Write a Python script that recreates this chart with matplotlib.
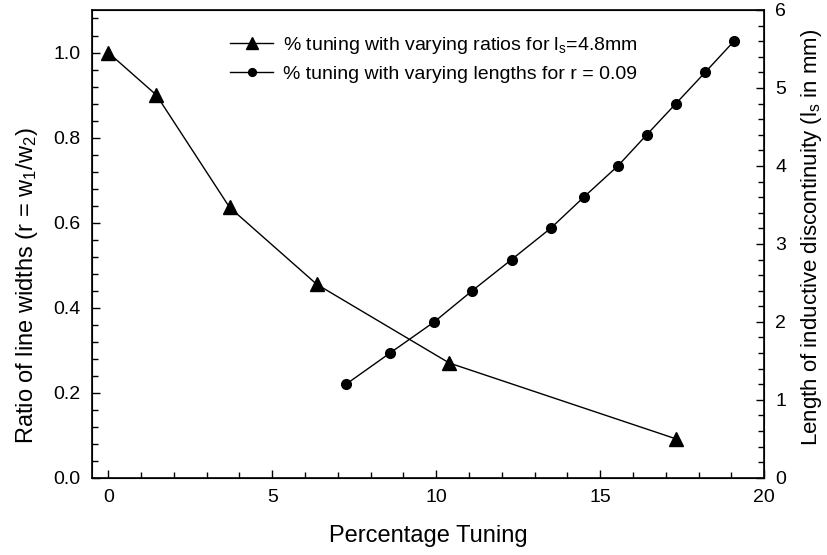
import numpy as np
import matplotlib
matplotlib.use("Agg")
import matplotlib.pyplot as plt
from matplotlib.ticker import MultipleLocator

plt.rcParams['font.family'] = ['Liberation Sans', 'DejaVu Sans']
plt.rcParams['mathtext.default'] = 'regular'

# % tuning with varying ratios (left axis)
tune_ratio = [0, 1.47, 3.7, 6.36, 10.4, 17.3]
ratio = [1.0, 0.9, 0.636, 0.455, 0.27, 0.092]

# % tuning with varying lengths (right axis)
tune_len = [7.25, 8.59, 9.94, 11.1, 12.3, 13.49, 14.5, 15.54, 16.42, 17.31, 18.2, 19.08]
length = [1.2, 1.6, 2.0, 2.4, 2.8, 3.2, 3.6, 4.0, 4.4, 4.8, 5.2, 5.6]

fig = plt.figure(figsize=(8.27, 5.55), dpi=100)
ax = fig.add_axes([0.111, 0.139, 0.813, 0.843])
ax2 = ax.twinx()

l1, = ax.plot(tune_ratio, ratio, '-k', marker='^', markersize=10, lw=1,
              label='% tuning with varying ratios for l$_s$=4.8mm')
l2, = ax2.plot(tune_len, length, '-k', marker='o', markersize=7, lw=1,
               label='% tuning with varying lengths for r = 0.09')

ax.set_xlim(-0.5, 20)
ax.set_ylim(0, 1.1)
ax2.set_ylim(0, 6)

ax.xaxis.set_major_locator(MultipleLocator(5))
ax.xaxis.set_minor_locator(MultipleLocator(1))
ax.yaxis.set_major_locator(MultipleLocator(0.2))
ax.yaxis.set_minor_locator(MultipleLocator(0.04))
ax2.yaxis.set_major_locator(MultipleLocator(1))
ax2.yaxis.set_minor_locator(MultipleLocator(0.2))
ax.yaxis.set_major_formatter(plt.FormatStrFormatter('%.1f'))

for a in (ax, ax2):
    a.tick_params(which='both', direction='in', labelsize=14, pad=8)
    a.tick_params(which='major', length=6, width=1)
    a.tick_params(which='minor', length=4, width=1)
ax.tick_params(top=False, right=False)
ax2.tick_params(top=False, left=False)
for s in ax.spines.values():
    s.set_linewidth(1.2)

ax.set_xlabel('Percentage Tuning', fontsize=17, labelpad=14)
ax.set_ylabel('Ratio of line widths (r = w$_1$/w$_2$)', fontsize=17)
ax2.set_ylabel('Length of inductive discontinuity (l$_s$ in mm)', fontsize=16)
ax.yaxis.set_label_coords(-0.077, 0.41)
ax2.yaxis.set_label_coords(1.052, 0.515)

ax.legend(handles=[l1, l2], loc='upper left', bbox_to_anchor=(0.18, 0.985),
          frameon=False, fontsize=14, handlelength=2.2, markerscale=0.8,
          labelspacing=0.5, handletextpad=0.5)

fig.savefig('out.png', dpi=100)
